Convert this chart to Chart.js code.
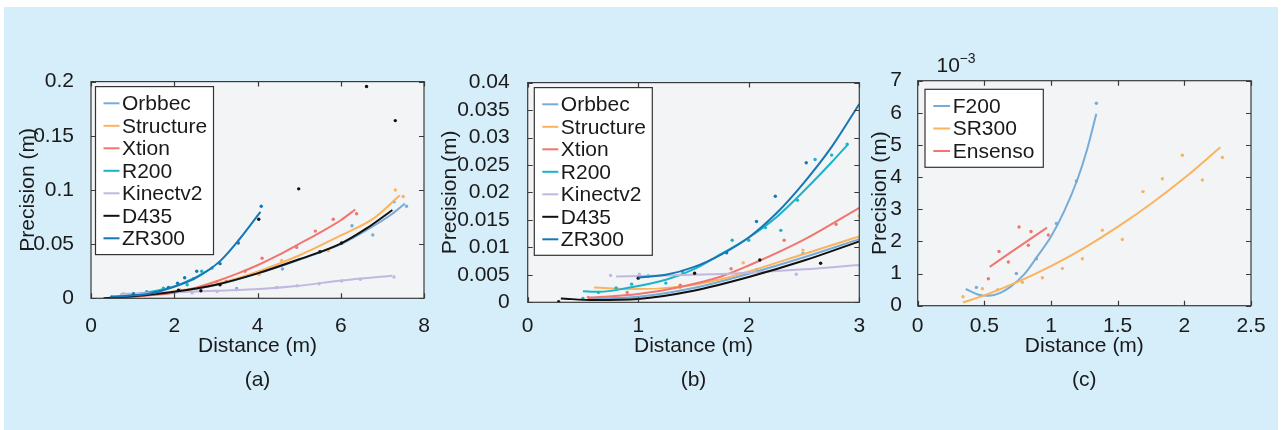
<!DOCTYPE html>
<html>
<head>
<meta charset="utf-8">
<script src="https://cdn.jsdelivr.net/npm/chart.js@4.4.1/dist/chart.umd.min.js"></script>
<style>
  html, body { margin: 0; padding: 0; background: #fff; }
  body { width: 1281px; height: 430px; position: relative; overflow: hidden; font-family: 'Liberation Sans', Arial, sans-serif; }
  #bg { position: absolute; left: 4px; top: 7px; width: 1274px; height: 423px; background: #d6edfa; }
  canvas { position: absolute; top: 60px; }
  #chart-a { left: 0; }
  #chart-b { left: 430px; }
  #chart-c { left: 860px; }
  .exp { position: absolute; color: #1a1a1a; line-height: 1; white-space: nowrap; }
</style>
</head>
<body>
<div id="bg"></div>
<canvas id="chart-a" width="440" height="340"></canvas>
<canvas id="chart-b" width="440" height="340"></canvas>
<canvas id="chart-c" width="421" height="340"></canvas>
<div class="exp" style="left:936.5px; top:54px; font-size:21px;">10</div>
<div class="exp" style="left:959.5px; top:51px; font-size:14px;">−3</div>
<script>
// ---- panel (a): full range ----
const aXTicks = [0, 2, 4, 6, 8];
const aYTicks = [0, 0.05, 0.1, 0.15, 0.2];

const aOrbbecFit = [[0.5,0.0002],[1,0.0016],[2,0.006],[3,0.0123],[4,0.0228],[5,0.0355],[6,0.05],[6.6,0.0625],[7.24,0.078],[7.54,0.0875]];
const aStructureFit = [[0.5,0.0004],[1,0.0018],[2,0.0065],[3,0.013],[4,0.0245],[5,0.0395],[6,0.058],[6.8,0.074],[7.42,0.095]];
const aXtionFit = [[0.5,0.0003],[1,0.0015],[1.5,0.003],[2,0.0052],[2.5,0.0095],[3,0.0155],[3.5,0.0225],[4,0.0305],[4.5,0.0398],[5,0.0502],[5.5,0.0607],[6,0.072],[6.35,0.082]];
const aR200Fit = [[0.5,0.0012],[1,0.0035],[1.5,0.0065],[2,0.011],[2.5,0.019],[2.91,0.028]];
const aKinectFit = [[0.7,0.004],[2,0.0055],[3,0.007],[4.06,0.0086],[4.94,0.0113],[6.01,0.0164],[7.24,0.0209]];
const aD435Fit = [[0.3,0],[1,0.0018],[2,0.006],[3,0.0125],[4,0.023],[5,0.036],[6,0.0505],[6.6,0.064],[7.24,0.0815]];
const aZR300Fit = [[0.46,0.0014],[0.78,0.002],[1.42,0.0045],[1.98,0.0104],[2.54,0.0194],[3.1,0.0343],[3.58,0.0552],[4.07,0.0797]];

const aOrbbecPts = [[1.82,0.005],[3.5,0.009],[4.6,0.027],[6.27,0.067],[6.77,0.0585],[7.28,0.089],[7.58,0.085]];
const aStructurePts = [[0.9,0.003],[2.78,0.011],[3.02,0.015],[4.04,0.022],[4.58,0.035],[5.7,0.044],[7.31,0.1],[7.5,0.094]];
const aXtionPts = [[1.2,0.003],[2.14,0.0075],[3.25,0.0155],[3.7,0.025],[4.11,0.037],[4.94,0.047],[5.39,0.062],[5.82,0.073],[6.38,0.078]];
const aR200Pts = [[0.7,0.0015],[1.34,0.006],[1.74,0.0093],[2.31,0.0125],[2.46,0.018],[2.66,0.025],[2.91,0.028]];
const aKinectPts = [[0.78,0.0042],[2.43,0.005],[3.03,0.0063],[3.5,0.0078],[4.46,0.0099],[4.95,0.0116],[5.48,0.0134],[6.02,0.016],[6.47,0.0176],[7.28,0.0197]];
const aD435Pts = [[0.5,0.001],[1.02,0.0036],[2.1,0.0075],[2.64,0.007],[3.1,0.0125],[4.03,0.073],[4.99,0.101],[5.5,0.043],[6.02,0.051],[6.62,0.1955],[7.31,0.164]];
const aZR300Pts = [[1.02,0.0042],[1.54,0.0054],[1.86,0.0099],[2.08,0.014],[2.25,0.019],[2.54,0.025],[3.1,0.032],[3.54,0.051],[4.09,0.085]];

// ---- panel (b): zoom to 3 m ----
const bXTicks = [0, 1, 2, 3];
const bYTicks = [0, 0.005, 0.01, 0.015, 0.02, 0.025, 0.03, 0.035, 0.04];

const bOrbbecFit = [[0.55,0.0006],[1,0.001],[1.5,0.0026],[2,0.0052],[2.5,0.0082],[3,0.0115]];
const bStructureFit = [[0.6,0.0027],[1,0.0024],[1.4,0.0029],[1.75,0.0042],[2,0.0056],[2.5,0.0088],[3,0.012]];
const bXtionFit = [[0.55,0.0008],[1,0.0015],[1.38,0.0028],[1.75,0.0047],[2,0.0067],[2.5,0.0114],[3,0.0172]];
const bR200Fit = [[0.5,0.002],[0.65,0.0019],[0.9,0.0026],[1.25,0.0041],[1.5,0.006],[1.75,0.0088],[2,0.0118],[2.25,0.0155],[2.5,0.0203],[2.75,0.0255],[2.9,0.0288]];
const bKinectFit = [[0.8,0.0047],[1.5,0.005],[2,0.0054],[2.5,0.006],[3,0.0068]];
const bD435Fit = [[0.3,0.0007],[0.6,0.0004],[1,0.0006],[1.5,0.0021],[2,0.0046],[2.5,0.0076],[3,0.0111]];
const bZR300Fit = [[1,0.0045],[1.25,0.005],[1.5,0.0064],[1.75,0.0087],[2,0.0118],[2.25,0.0162],[2.5,0.0218],[2.75,0.0283],[3,0.0361]];

const bOrbbecPts = [[0.58,0.0008],[2.07,0.006],[2.49,0.0089]];
const bStructurePts = [[1.38,0.0027],[1.95,0.0072],[2.49,0.0095],[3.0,0.0157]];
const bXtionPts = [[0.55,0.0009],[0.9,0.0018],[1.38,0.0031],[1.84,0.0061],[2.32,0.0113],[2.79,0.0142]];
const bR200Pts = [[0.5,0.0007],[0.64,0.0018],[0.8,0.0026],[0.94,0.0033],[1.09,0.0048],[1.25,0.0035],[1.4,0.0056],[1.85,0.0113],[2.0,0.0113],[2.15,0.0136],[2.29,0.0131],[2.44,0.0186],[2.6,0.026],[2.75,0.0268],[2.89,0.0288]];
const bKinectPts = [[0.75,0.0049],[1.01,0.0051],[2.43,0.0051]];
const bD435Pts = [[0.28,0.0001],[1.0,0.0044],[1.51,0.0053],[2.1,0.0077],[2.65,0.0071]];
const bZR300Pts = [[1.8,0.009],[2.07,0.0147],[2.24,0.0193],[2.52,0.0254]];

// ---- panel (c): values in 1e-3 m ----
const cXTicks = [0, 0.5, 1, 1.5, 2, 2.5];
const cYTicks = [0, 1, 2, 3, 4, 5, 6, 7];

const cF200Fit = [[0.36,0.52],[0.45,0.35],[0.53,0.31],[0.62,0.4],[0.7,0.6],[0.8,0.98],[0.9,1.55],[1.0,2.15],[1.1,2.95],[1.2,3.95],[1.27,4.85],[1.34,5.97]];
const cSR300Fit = [[0.34,0.1],[0.5,0.32],[0.75,0.74],[1,1.23],[1.25,1.8],[1.5,2.45],[1.75,3.17],[2,3.97],[2.27,4.93]];
const cEnsensoFit = [[0.54,1.21],[0.97,2.43]];

const cF200Pts = [[0.44,0.57],[0.74,1.0],[0.89,1.46],[1.04,2.56],[1.19,3.88],[1.34,6.3]];
const cSR300Pts = [[0.34,0.28],[0.485,0.53],[0.6,0.5],[0.785,0.73],[0.935,0.87],[1.085,1.16],[1.235,1.46],[1.385,2.35],[1.535,2.06],[1.69,3.55],[1.835,3.95],[1.985,4.68],[2.135,3.91],[2.285,4.61]];
const cEnsensoPts = [[0.53,0.84],[0.61,1.69],[0.68,1.36],[0.76,2.45],[0.83,1.88],[0.85,2.31],[0.98,2.2]];

const colors = {
  blue: '#78acd8', orange: '#fbb35e', red: '#f0766e', cyan: '#19b4c8',
  lilac: '#c0b8e0', black: '#111111', dblue: '#1577b5'
};
const txt = '#1a1a1a';
Chart.defaults.font.family = "'Liberation Sans', Arial, sans-serif";

function toXY(pairs) { return pairs.map(p => ({ x: p[0], y: p[1] })); }

function buildDatasets(series) {
  const ds = [];
  series.forEach((s, i) => {
    ds.push({
      label: s.name, data: toXY(s.fit), showLine: true, inLegend: true,
      borderColor: s.color, backgroundColor: s.color, borderWidth: 2,
      pointRadius: 0, cubicInterpolationMode: 'monotone', order: -i
    });
    ds.push({
      label: s.name + ' data', data: toXY(s.pts), showLine: false,
      backgroundColor: s.color, borderWidth: 0, pointRadius: 1.7, order: -i
    });
  });
  return ds;
}

// axes box, inward ticks, legend inside plot area
const framePlugin = {
  id: 'frame',
  beforeDatasetsDraw(chart) {
    const { ctx, chartArea: a } = chart;
    ctx.save();
    ctx.fillStyle = '#f3f4f6';
    ctx.fillRect(a.left, a.top, a.right - a.left, a.bottom - a.top);
    ctx.restore();
  },
  afterDatasetsDraw(chart, args, lg) {
    const { ctx, chartArea: a, scales: { x, y } } = chart;
    ctx.save();
    ctx.strokeStyle = '#3a3a3a';
    ctx.lineWidth = 1.2;
    ctx.beginPath();
    x.ticks.forEach(t => {
      const px = Math.round(x.getPixelForValue(t.value)) + 0.5;
      ctx.moveTo(px, a.bottom); ctx.lineTo(px, a.bottom - 5);
      ctx.moveTo(px, a.top); ctx.lineTo(px, a.top + 5);
    });
    y.ticks.forEach(t => {
      const py = Math.round(y.getPixelForValue(t.value)) + 0.5;
      ctx.moveTo(a.left, py); ctx.lineTo(a.left + 5, py);
      ctx.moveTo(a.right, py); ctx.lineTo(a.right - 5, py);
    });
    ctx.stroke();
    ctx.strokeRect(a.left, a.top, a.right - a.left, a.bottom - a.top);

    // legend box
    const items = chart.data.datasets.filter(d => d.inLegend);
    const bx = a.left + lg.dx, by = a.top + lg.dy;
    ctx.fillStyle = '#ffffff';
    ctx.fillRect(bx, by, lg.w, lg.h);
    ctx.strokeStyle = '#333';
    ctx.lineWidth = 1.2;
    ctx.strokeRect(bx, by, lg.w, lg.h);
    ctx.font = "21px 'Liberation Sans', Arial, sans-serif";
    ctx.textBaseline = 'middle';
    ctx.textAlign = 'left';
    items.forEach((d, i) => {
      const cy = by + lg.row0 + i * lg.step;
      ctx.strokeStyle = d.borderColor;
      ctx.lineWidth = 2;
      ctx.beginPath();
      ctx.moveTo(bx + lg.l0, cy); ctx.lineTo(bx + lg.l1, cy);
      ctx.stroke();
      ctx.fillStyle = txt;
      ctx.fillText(d.label, bx + lg.tx, cy + 1);
    });
    ctx.restore();
  }
};

function fmt(v) { return String(parseFloat(v.toFixed(4))); }

function makeChart(id, series, o) {
  return new Chart(document.getElementById(id), {
    type: 'scatter',
    data: { datasets: buildDatasets(series) },
    options: {
      responsive: false,
      animation: false,
      events: [],
      layout: { padding: o.pad },
      plugins: {
        legend: { display: false },
        tooltip: { enabled: false },
        frame: o.legend
      },
      scales: {
        x: {
          type: 'linear',
          min: o.xTicks[0], max: o.xTicks[o.xTicks.length - 1],
          afterBuildTicks: s => { s.ticks = o.xTicks.map(v => ({ value: v })); },
          afterFit: s => { s.height = o.xH; },
          grid: { display: false }, border: { display: false },
          ticks: { autoSkip: false, padding: o.xTickPad, color: txt, font: { size: 21 }, maxRotation: 0, callback: v => fmt(v) },
          title: {
            display: true, text: ['Distance (m)', o.caption], color: txt,
            font: { size: 21, lineHeight: 1.59 }, padding: { top: 0, bottom: 3.3 }
          }
        },
        y: {
          type: 'linear',
          min: o.yTicks[0], max: o.yTicks[o.yTicks.length - 1],
          afterBuildTicks: s => { s.ticks = o.yTicks.map(v => ({ value: v })); },
          afterFit: s => { s.width = o.yW; },
          grid: { display: false }, border: { display: false },
          ticks: { autoSkip: false, padding: o.yTickPad, color: txt, font: { size: 21 }, callback: v => fmt(v) },
          title: {
            display: true, text: 'Precision (m)', color: txt,
            font: { size: 21, lineHeight: 1.2 }, padding: { top: o.yTitlePad, bottom: 0 }
          }
        }
      }
    },
    plugins: [framePlugin]
  });
}

const legendSeven = { dx: 4.5, dy: 5, w: 118, h: 168, row0: 16.7, step: 22.5, l0: 8, l1: 24, tx: 26.5 };

makeChart('chart-a', [
  { name: 'Orbbec', color: colors.blue, fit: aOrbbecFit, pts: aOrbbecPts },
  { name: 'Structure', color: colors.orange, fit: aStructureFit, pts: aStructurePts },
  { name: 'Xtion', color: colors.red, fit: aXtionFit, pts: aXtionPts },
  { name: 'R200', color: colors.cyan, fit: aR200Fit, pts: aR200Pts },
  { name: 'Kinectv2', color: colors.lilac, fit: aKinectFit, pts: aKinectPts },
  { name: 'D435', color: colors.black, fit: aD435Fit, pts: aD435Pts },
  { name: 'ZR300', color: colors.dblue, fit: aZR300Fit, pts: aZR300Pts }
], {
  xTicks: aXTicks, yTicks: aYTicks, caption: '(a)',
  pad: { left: 0, top: 15, right: 16, bottom: 0 },
  yW: 91, xH: 101.7, xTickPad: 7.4, yTickPad: 9, yTitlePad: 15.7,
  legend: legendSeven
});

makeChart('chart-b', [
  { name: 'Orbbec', color: colors.blue, fit: bOrbbecFit, pts: bOrbbecPts },
  { name: 'Structure', color: colors.orange, fit: bStructureFit, pts: bStructurePts },
  { name: 'Xtion', color: colors.red, fit: bXtionFit, pts: bXtionPts },
  { name: 'R200', color: colors.cyan, fit: bR200Fit, pts: bR200Pts },
  { name: 'Kinectv2', color: colors.lilac, fit: bKinectFit, pts: bKinectPts },
  { name: 'D435', color: colors.black, fit: bD435Fit, pts: bD435Pts },
  { name: 'ZR300', color: colors.dblue, fit: bZR300Fit, pts: bZR300Pts }
], {
  xTicks: bXTicks, yTicks: bYTicks, caption: '(b)',
  pad: { left: 0, top: 18.3, right: 10.7, bottom: 0 },
  yW: 97.7, xH: 97.7, xTickPad: 3.4, yTickPad: 10, yTitlePad: 7.4,
  legend: { dx: 6.6, dy: 5, w: 118, h: 167.7, row0: 16.7, step: 22.5, l0: 8, l1: 24, tx: 26.5 }
});

makeChart('chart-c', [
  { name: 'F200', color: colors.blue, fit: cF200Fit, pts: cF200Pts },
  { name: 'SR300', color: colors.orange, fit: cSR300Fit, pts: cSR300Pts },
  { name: 'Ensenso', color: colors.red, fit: cEnsensoFit, pts: cEnsensoPts }
], {
  xTicks: cXTicks, yTicks: cYTicks, caption: '(c)',
  pad: { left: 0, top: 20.7, right: 30, bottom: 0 },
  yW: 57.7, xH: 94.3, xTickPad: 0, yTickPad: 7.7, yTitlePad: 7.4,
  legend: { dx: 7.3, dy: 8.6, w: 118.3, h: 78, row0: 16.7, step: 22.5, l0: 8.3, l1: 25, tx: 27.7 }
});
</script>
</body>
</html>
